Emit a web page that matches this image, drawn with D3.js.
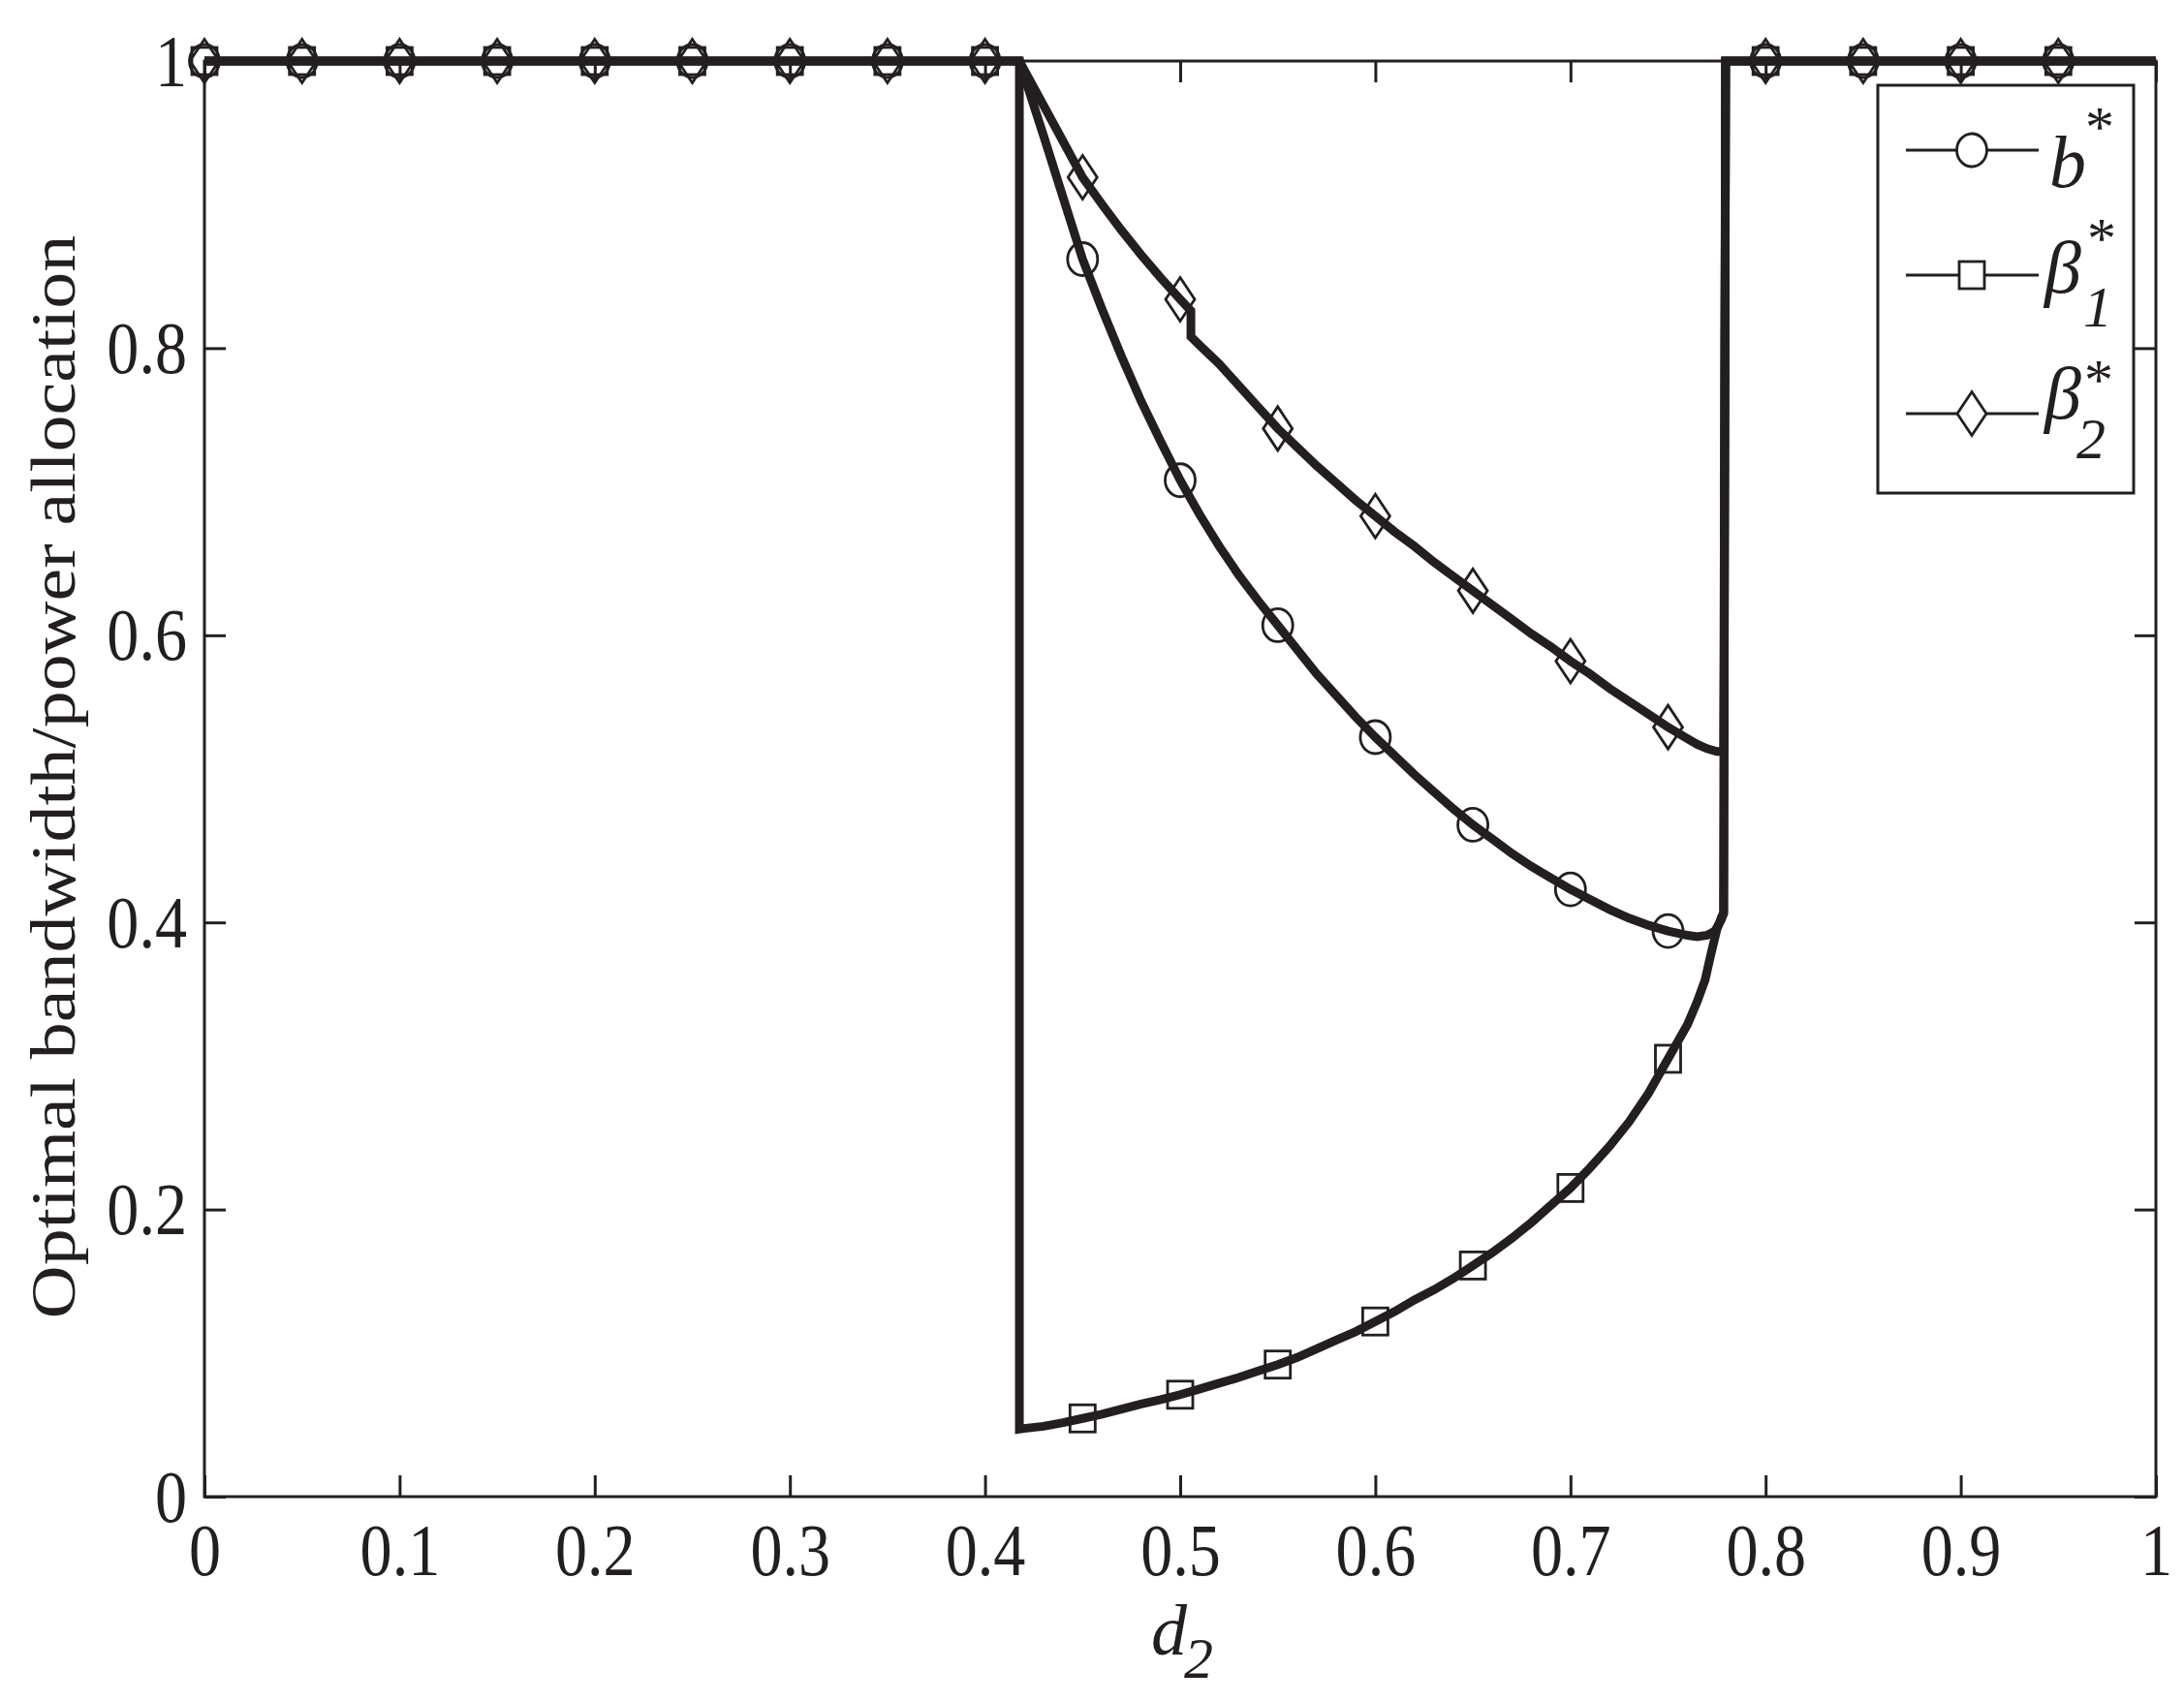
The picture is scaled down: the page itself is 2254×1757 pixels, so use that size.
<!DOCTYPE html>
<html><head><meta charset="utf-8">
<script src="https://cdn.jsdelivr.net/npm/d3@7"></script>
<style>html,body{margin:0;padding:0;background:#fff;} svg{display:block;}</style>
</head><body>
<svg id="chart" width="2254" height="1757"></svg>
<script>
// ---------- data ----------
const xTickValues = [0,0.1,0.2,0.3,0.4,0.5,0.6,0.7,0.8,0.9,1];
const xTickLabels = ["0","0.1","0.2","0.3","0.4","0.5","0.6","0.7","0.8","0.9","1"];
const yTickValues = [0,0.2,0.4,0.6,0.8,1];
const yTickLabels = ["0","0.2","0.4","0.6","0.8","1"];

// b* curve
const bD = [0,0.4176,0.42,0.43,0.44,0.45,0.46,0.47,0.48,0.49,0.50,0.51,0.52,0.53,0.54,0.55,0.56,0.57,0.58,0.59,0.60,0.61,0.62,0.63,0.64,0.65,0.66,0.67,0.68,0.69,0.70,0.71,0.72,0.73,0.74,0.75,0.76,0.765,0.77,0.774,0.777,0.7785,0.7795,1];
const bV = [1,1,0.990,0.948,0.905,0.862,0.827,0.794,0.763,0.735,0.708,0.684,0.662,0.642,0.624,0.607,0.590,0.573,0.558,0.543,0.529,0.516,0.503,0.491,0.479,0.468,0.458,0.448,0.439,0.431,0.423,0.416,0.409,0.403,0.398,0.394,0.391,0.390,0.391,0.394,0.401,0.406,1,1];
// beta1* curve
const beta1D = [0,0.4176,0.4176,0.42,0.43,0.44,0.45,0.46,0.47,0.48,0.49,0.50,0.51,0.52,0.53,0.54,0.55,0.56,0.57,0.58,0.59,0.60,0.61,0.62,0.63,0.64,0.65,0.66,0.67,0.68,0.69,0.70,0.71,0.72,0.73,0.74,0.75,0.755,0.76,0.765,0.769,0.772,0.775,0.7775,0.7785,0.7795,1];
const beta1V = [1,1,0.047,0.0475,0.049,0.0515,0.0545,0.0575,0.061,0.0645,0.0675,0.071,0.075,0.079,0.083,0.0875,0.092,0.097,0.103,0.109,0.115,0.122,0.129,0.137,0.144,0.152,0.161,0.170,0.180,0.191,0.203,0.215,0.229,0.244,0.261,0.281,0.305,0.317,0.329,0.345,0.360,0.378,0.395,0.404,0.407,1,1];
// beta2* curve
const beta2D = [0,0.4176,0.42,0.43,0.44,0.45,0.46,0.47,0.48,0.49,0.50,0.5055,0.5055,0.51,0.52,0.53,0.54,0.55,0.56,0.57,0.58,0.59,0.60,0.61,0.62,0.63,0.64,0.65,0.66,0.67,0.68,0.69,0.70,0.71,0.72,0.73,0.74,0.75,0.76,0.765,0.77,0.775,0.7785,0.7795,1];
const beta2V = [1,1,0.994,0.969,0.944,0.919,0.900,0.882,0.865,0.849,0.834,0.826,0.808,0.802,0.789,0.774,0.759,0.744,0.731,0.718,0.706,0.694,0.683,0.672,0.662,0.651,0.641,0.631,0.621,0.611,0.601,0.592,0.582,0.573,0.563,0.554,0.545,0.536,0.528,0.524,0.521,0.519,0.519,1,1];

// markers
const markerD = [0,0.05,0.1,0.15,0.2,0.25,0.3,0.35,0.4,0.45,0.5,0.55,0.6,0.65,0.7,0.75,0.8,0.85,0.9,0.95];
const bMarkers     = [1,1,1,1,1,1,1,1,1,0.862,0.708,0.607,0.529,0.468,0.423,0.394,1,1,1,1];
const beta1Markers = [1,1,1,1,1,1,1,1,1,0.0545,0.071,0.092,0.122,0.161,0.215,0.305,1,1,1,1];
const beta2Markers = [1,1,1,1,1,1,1,1,1,0.919,0.834,0.744,0.683,0.631,0.582,0.536,1,1,1,1];

const seriesNames = ["b","β","β"];
const seriesSubs = ["","1","2"];
const seriesShapes = ["circle","square","diamond"];

// ---------- drawing ----------
const ink = "#231f20";
const svg = d3.select("#chart");
svg.append("rect").attr("width",2254).attr("height",1757).attr("fill","#fff");

const X0=211, X1=2225, Y0=1545, Y1=63;
const x = d3.scaleLinear().domain([0,1]).range([X0,X1]);
const y = d3.scaleLinear().domain([0,1]).range([Y0,Y1]);
const TICK = 22, SX = 0.87, FS = 76;
const serif = "'Liberation Serif','Times New Roman',serif";

function styleAxis(g){
  g.attr("font-size",null).attr("font-family",null);
  g.select(".domain").remove();
  g.selectAll(".tick line").attr("stroke",ink).attr("stroke-width",3);
}
const gB = svg.append("g").attr("transform",`translate(0,${Y0})`)
  .call(d3.axisBottom(x).tickValues(xTickValues).tickFormat((d,i)=>xTickLabels[i]).tickSizeInner(-TICK).tickSizeOuter(0));
styleAxis(gB);
gB.selectAll(".tick text").attr("y",81).attr("dy",0).attr("fill",ink)
  .attr("font-family",serif).attr("font-size",FS)
  .attr("transform",`scale(${SX},1)`);

const gT = svg.append("g").attr("transform",`translate(0,${Y1})`)
  .call(d3.axisTop(x).tickValues(xTickValues).tickFormat("").tickSizeInner(-TICK).tickSizeOuter(0));
styleAxis(gT); gT.selectAll("text").remove();

const gL = svg.append("g").attr("transform",`translate(${X0},0)`)
  .call(d3.axisLeft(y).tickValues(yTickValues).tickFormat((d,i)=>yTickLabels[i]).tickSizeInner(-TICK).tickSizeOuter(0));
styleAxis(gL);
gL.selectAll(".tick text").attr("x",-18/SX).attr("dy",25).attr("fill",ink).attr("text-anchor","end")
  .attr("font-family",serif).attr("font-size",FS)
  .attr("transform",`scale(${SX},1)`);

const gR = svg.append("g").attr("transform",`translate(${X1},0)`)
  .call(d3.axisRight(y).tickValues(yTickValues).tickFormat("").tickSizeInner(-TICK).tickSizeOuter(0));
styleAxis(gR); gR.selectAll("text").remove();

svg.append("rect").attr("x",X0).attr("y",Y1).attr("width",X1-X0).attr("height",Y0-Y1)
  .attr("fill","none").attr("stroke",ink).attr("stroke-width",3);

// marker drawing
function drawMarker(g, shape, cx, cy){
  if(shape==="circle"){
    g.append("ellipse").attr("cx",cx).attr("cy",cy).attr("rx",15.5).attr("ry",17);
  } else if(shape==="square"){
    g.append("rect").attr("x",cx-13).attr("y",cy-14).attr("width",26).attr("height",28);
  } else {
    g.append("path").attr("d",`M${cx},${cy-22.5}L${cx+15},${cy}L${cx},${cy+22.5}L${cx-15},${cy}Z`);
  }
}

const line = d3.line().x(d=>x(d[0])).y(d=>y(d[1]));
const lineData = [d3.zip(bD,bV), d3.zip(beta1D,beta1V), d3.zip(beta2D,beta2V)];
const markerData = [bMarkers, beta1Markers, beta2Markers];

lineData.forEach((pts,k)=>{
  svg.append("path").attr("d",line(pts)).attr("fill","none").attr("stroke",ink)
    .attr("stroke-width",9).attr("stroke-linejoin","miter").attr("stroke-linecap","butt");
  const mg = svg.append("g").attr("fill","none").attr("stroke",ink).attr("stroke-width",2.8);
  markerData[k].forEach((v,i)=>drawMarker(mg, seriesShapes[k], x(markerD[i]), y(v)));
});

// legend
const leg = svg.append("g");
leg.append("rect").attr("x",1938).attr("y",88).attr("width",264).attr("height",421)
  .attr("fill","#fff").attr("stroke",ink).attr("stroke-width",3);
const legRows = [155,284,427];
const legText = [ // [mainX, mainDy, subX, subDy, starX, starDy]
  [2115, 38, 0, 0, 2152, -4],
  [2110, 18, 2150, 53, 2154, -18],
  [2110, 5, 2143, 46, 2151, -15]
];
legRows.forEach((ry,k)=>{
  const g = leg.append("g");
  g.append("line").attr("x1",1967).attr("x2",2104).attr("y1",ry).attr("y2",ry)
    .attr("stroke",ink).attr("stroke-width",2.8);
  const mg = g.append("g").attr("fill","#fff").attr("stroke",ink).attr("stroke-width",2.8);
  drawMarker(mg, seriesShapes[k], 2035, ry);
  const t = legText[k];
  const txt = g.append("text").attr("font-family",serif).attr("fill",ink);
  txt.append("tspan").attr("x",t[0]).attr("y",ry+t[1]).attr("font-style","italic")
    .attr("font-size",FS).text(seriesNames[k]);
  if(seriesSubs[k]) txt.append("tspan").attr("x",t[2]).attr("y",ry+t[3]).attr("font-style","italic")
    .attr("font-size",60).text(seriesSubs[k]);
  txt.append("tspan").attr("x",t[4]).attr("y",ry+t[5]).attr("font-size",60).text("*");
});

// axis titles
const xt = svg.append("text").attr("font-family",serif).attr("font-style","italic").attr("fill",ink);
xt.append("tspan").attr("x",1188).attr("y",1708).attr("font-size",74).text("d");
xt.append("tspan").attr("x",1222).attr("y",1732).attr("font-size",60).text("2");
svg.append("text").attr("transform",`translate(77,802) scale(${SX},1) rotate(-90)`)
  .attr("text-anchor","middle").attr("font-family",serif).attr("font-size",FS).attr("fill",ink)
  .text("Optimal bandwidth/power allocation");
</script>
</body></html>
